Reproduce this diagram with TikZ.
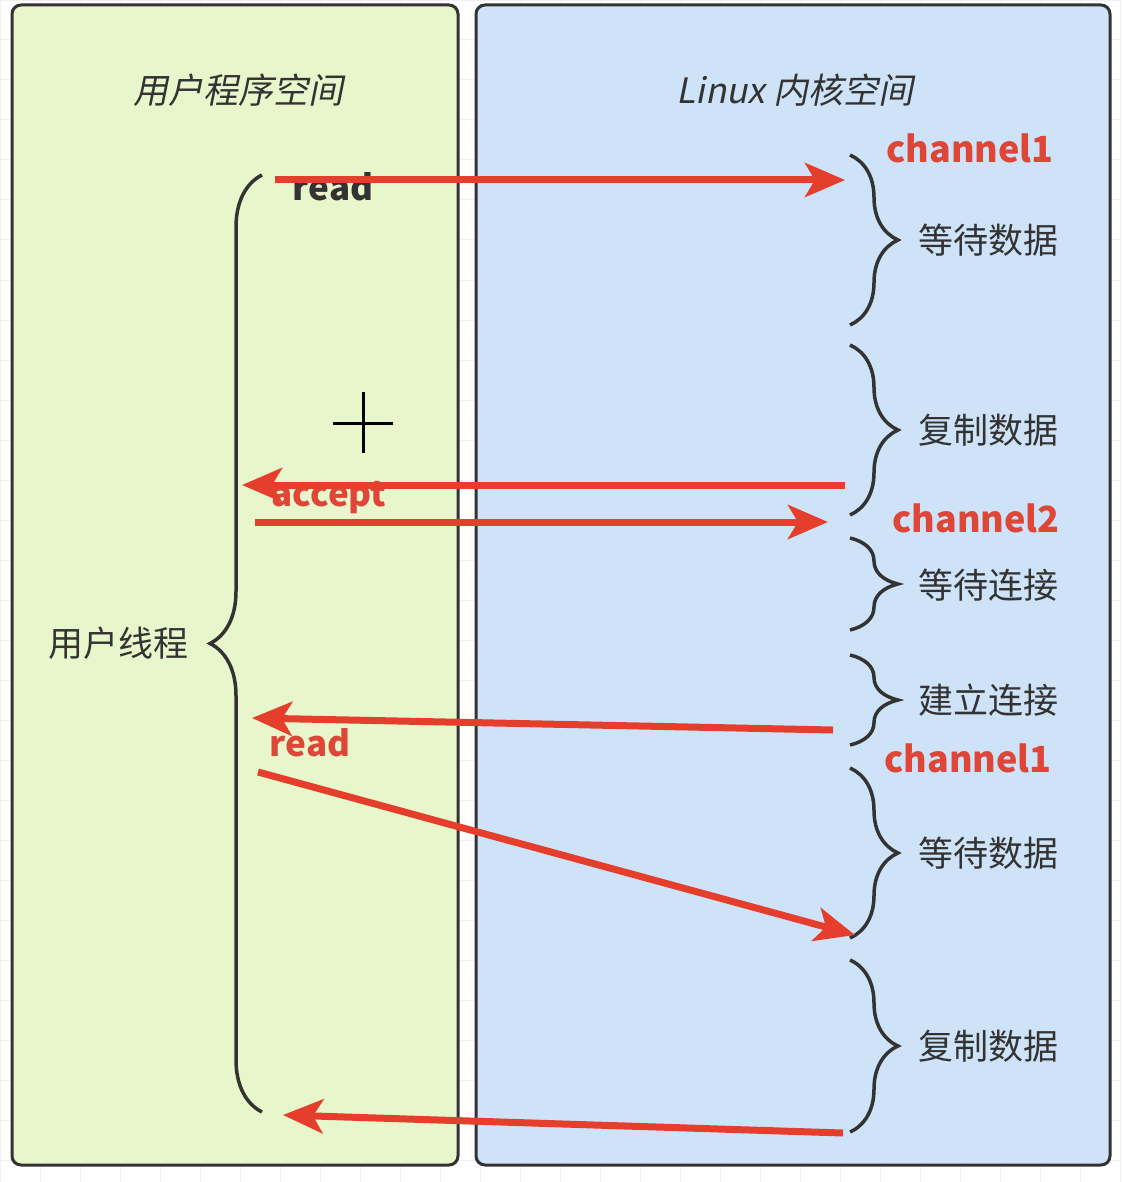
\documentclass[tikz,border=0pt]{standalone}
\usepackage{fontspec}
\setmainfont{Noto Sans CJK SC}
\newfontfamily\slantfont[FakeSlant=0.2]{Noto Sans CJK SC}
\usetikzlibrary{arrows.meta,decorations.pathreplacing,calc}
\definecolor{userbg}{RGB}{232,246,204}
\definecolor{kernbg}{RGB}{207,227,248}
\definecolor{framecol}{RGB}{51,51,51}
\definecolor{arrowred}{RGB}{230,62,44}
\definecolor{labelred}{RGB}{222,70,56}
\tikzset{
    panel/.style = {draw=framecol, line width=3pt, rounded corners=9pt},
    arrow/.style = {draw=arrowred, line width=7pt,
        -{Stealth[length=40pt,width=34pt,inset=10pt]}},
    bracer/.style = {draw=framecol, line width=3.5pt, decorate,
        decoration={brace, amplitude=#1}},
    bracer/.default = 48pt,
    stage/.style = {font=\fontsize{35}{35}\selectfont, text=framecol,
        anchor=west, inner sep=0pt},
    title/.style = {font=\slantfont\fontsize{35}{35}\selectfont, text=framecol},
    chan/.style = {font=\fontsize{36}{36}\selectfont\bfseries, text=labelred},
    call/.style = {font=\fontsize{35}{35}\selectfont\bfseries, text=labelred}
}
\begin{document}
\begin{tikzpicture}[x=1pt, y=1pt]
    \useasboundingbox (0,0) rectangle (1122,-1182);
    \draw[gray!12, line width=1pt, step=40pt] (0,0) grid (1122,-1182);
    \draw[panel, fill=userbg] (12,-5) rectangle (458,-1165);
    \draw[panel, fill=kernbg] (476,-5) rectangle (1110,-1165);
    \node[title] (usr) at (238,-90) {用户程序空间};
    \node[title] (krn) at (795,-90) {Linux 内核空间};

    \draw[bracer=52pt] (262,-1112) -- (262,-175);
    \node[font=\fontsize{35}{35}\selectfont, text=framecol] (thread) at (118,-643) {用户线程};

    \draw[bracer] (850,-155) -- (850,-325);
    \draw[bracer] (850,-345) -- (850,-515);
    \draw[bracer] (850,-538) -- (850,-630);
    \draw[bracer] (850,-655) -- (850,-745);
    \draw[bracer] (850,-768) -- (850,-938);
    \draw[bracer] (850,-960) -- (850,-1132);
    \node[stage] (wait1) at (918,-240) {等待数据};
    \node[stage] (copy1) at (918,-430) {复制数据};
    \node[stage] (waitc) at (918,-585) {等待连接};
    \node[stage] (conn) at (918,-700) {建立连接};
    \node[stage] (wait2) at (918,-853) {等待数据};
    \node[stage] (copy2) at (918,-1046) {复制数据};

    \node[chan] (ch1a) at (970,-148) {channel1};
    \node[chan] (ch2) at (976,-518) {channel2};
    \node[chan] (ch1b) at (968,-758) {channel1};

    \node[call, text=framecol] (read1) at (333,-187) {read};
    \node[call] (acc) at (329,-498) {accept};
    \node[call] (read2) at (310,-743) {read};

    \coordinate (r1s) at (275,-180);
    \coordinate (r1e) at (845,-180);
    \coordinate (c1s) at (845,-485);
    \coordinate (c1e) at (242,-485);
    \coordinate (a1s) at (255,-522);
    \coordinate (a1e) at (828,-522);
    \coordinate (e1s) at (833,-730);
    \coordinate (e1e) at (252,-718);
    \coordinate (r2s) at (258,-772);
    \coordinate (r2e) at (855,-935);
    \coordinate (c2s) at (843,-1133);
    \coordinate (c2e) at (283,-1115);
    \draw[arrow] (r1s) -- (r1e);
    \draw[arrow] (c1s) -- (c1e);
    \draw[arrow] (a1s) -- (a1e);
    \draw[arrow] (e1s) -- (e1e);
    \draw[arrow] (r2s) -- (r2e);
    \draw[arrow] (c2s) -- (c2e);

    \draw[line width=3pt] (363,-392) -- (363,-453) (333,-423) -- (393,-423);
\end{tikzpicture}
\end{document}
